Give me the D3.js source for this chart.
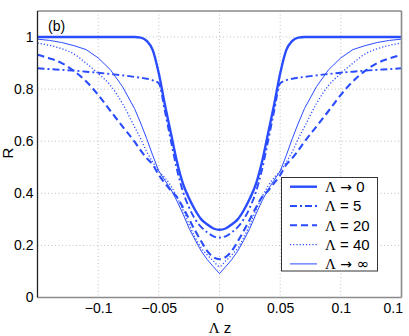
<!DOCTYPE html>
<html>
<head>
<meta charset="utf-8">
<script src="https://cdn.jsdelivr.net/npm/d3@7"></script>
<style>
  html, body { margin: 0; padding: 0; background: #fff; }
  svg { display: block; font-family: "Liberation Sans", Arial, sans-serif; }
</style>
</head>
<body>
<svg id="chart" width="409" height="336"></svg>
<script>
// ---- data ----
const xValues = [-0.15, -0.14, -0.13, -0.12, -0.11, -0.10, -0.09, -0.08, -0.07, -0.065, -0.06, -0.055, -0.05, -0.045, -0.04, -0.035, -0.03, -0.025, -0.02, -0.015, -0.01, -0.005,
  0, 0.005, 0.01, 0.015, 0.02, 0.025, 0.03, 0.035, 0.04, 0.045, 0.05, 0.055, 0.06, 0.065, 0.07, 0.08, 0.09, 0.10, 0.11, 0.12, 0.13, 0.14, 0.15];

const rLam0 = [1, 1, 1, 1, 1, 1, 1, 1, 1, 0.998, 0.985, 0.95, 0.86, 0.74, 0.63, 0.52, 0.435, 0.38, 0.335, 0.30, 0.28, 0.265,
  0.26, 0.265, 0.28, 0.30, 0.335, 0.38, 0.435, 0.52, 0.63, 0.74, 0.86, 0.95, 0.985, 0.998, 1, 1, 1, 1, 1, 1, 1, 1, 1];
const rLam5 = [0.88, 0.877, 0.874, 0.871, 0.867, 0.863, 0.858, 0.853, 0.847, 0.844, 0.84, 0.834, 0.822, 0.715, 0.60, 0.49, 0.405, 0.345, 0.30, 0.27, 0.25, 0.235,
  0.23, 0.235, 0.25, 0.27, 0.30, 0.345, 0.405, 0.49, 0.60, 0.715, 0.822, 0.834, 0.84, 0.844, 0.847, 0.853, 0.858, 0.863, 0.867, 0.871, 0.874, 0.877, 0.88];
const rLam20 = [0.932, 0.918, 0.90, 0.87, 0.83, 0.778, 0.717, 0.657, 0.598, 0.565, 0.535, 0.51, 0.47, 0.439, 0.41, 0.385, 0.345, 0.30, 0.256, 0.215, 0.178, 0.155,
  0.147, 0.155, 0.178, 0.215, 0.256, 0.30, 0.345, 0.385, 0.41, 0.439, 0.47, 0.51, 0.535, 0.565, 0.598, 0.657, 0.717, 0.778, 0.83, 0.87, 0.90, 0.918, 0.932];
const rLam40 = [0.977, 0.968, 0.955, 0.935, 0.90, 0.86, 0.815, 0.745, 0.655, 0.61, 0.56, 0.52, 0.485, 0.46, 0.428, 0.385, 0.335, 0.28, 0.23, 0.19, 0.163, 0.14,
  0.119, 0.14, 0.163, 0.19, 0.23, 0.28, 0.335, 0.385, 0.428, 0.46, 0.485, 0.52, 0.56, 0.61, 0.655, 0.745, 0.815, 0.86, 0.90, 0.935, 0.955, 0.968, 0.977];
const rLamInf = [0.992, 0.987, 0.979, 0.967, 0.952, 0.92, 0.875, 0.81, 0.725, 0.67, 0.61, 0.545, 0.485, 0.45, 0.415, 0.37, 0.32, 0.265, 0.22, 0.178, 0.145, 0.118,
  0.092, 0.118, 0.145, 0.178, 0.22, 0.265, 0.32, 0.37, 0.415, 0.45, 0.485, 0.545, 0.61, 0.67, 0.725, 0.81, 0.875, 0.92, 0.952, 0.967, 0.979, 0.987, 0.992];

const seriesSymbols = ["→ 0", "= 5", "= 20", "= 40", "→ ∞"];
const seriesValues = [rLam0, rLam5, rLam20, rLam40, rLamInf];

const xTickValues = [-0.1, -0.05, 0, 0.05, 0.1, 0.15];
const xTickLabels = ["−0.1", "−0.05", "0", "0.05", "0.1", "0.1"];
const yTickValues = [0, 0.2, 0.4, 0.6, 0.8, 1];
const yTickLabels = ["0", "0.2", "0.4", "0.6", "0.8", "1"];

// ---- styles ----
const blue = "#2a4cff";
const styles = [
  { width: 2.4, dash: null, curve: d3.curveMonotoneX },
  { width: 1.9, dash: "7,3,2,3", curve: d3.curveMonotoneX },
  { width: 2.1, dash: "7,4", curve: d3.curveMonotoneX },
  { width: 1.3, dash: "1.2,2", curve: d3.curveMonotoneX },
  { width: 1.0, dash: null, curve: d3.curveLinear }
];

const svg = d3.select("#chart");
const pLeft = 37.5, pRight = 401.5, pTop = 11, pBottom = 297.5;

const x = d3.scaleLinear().domain([-0.15, 0.15]).range([pLeft, pRight]);
const y = d3.scaleLinear().domain([0, 1.1]).range([pBottom, pTop]);

svg.append("rect").attr("x", 0).attr("y", 0).attr("width", 409).attr("height", 336).attr("fill", "#fff");

// grid
const grid = svg.append("g");
grid.selectAll("line.gx").data([-0.1, -0.05, 0, 0.05, 0.1]).join("line")
  .attr("x1", d => x(d)).attr("x2", d => x(d)).attr("y1", pTop).attr("y2", pBottom)
  .attr("stroke", "#b0b0b0").attr("stroke-width", 0.8).attr("stroke-dasharray", "1,2.5");
grid.selectAll("line.gy").data(yTickValues.slice(1)).join("line")
  .attr("x1", pLeft).attr("x2", pRight).attr("y1", d => y(d)).attr("y2", d => y(d))
  .attr("stroke", "#b0b0b0").attr("stroke-width", 0.8).attr("stroke-dasharray", "1,2.5");

// clip
svg.append("clipPath").attr("id", "plotclip").append("rect")
  .attr("x", pLeft).attr("y", pTop).attr("width", pRight - pLeft).attr("height", pBottom - pTop);

const plot = svg.append("g").attr("clip-path", "url(#plotclip)");
seriesValues.forEach((vals, i) => {
  const pts = xValues.map((xv, k) => [xv, vals[k]]);
  const line = d3.line().x(d => x(d[0])).y(d => y(d[1])).curve(styles[i].curve);
  plot.append("path").attr("d", line(pts))
    .attr("fill", "none").attr("stroke", blue)
    .attr("stroke-width", styles[i].width)
    .attr("stroke-dasharray", styles[i].dash)
    .attr("stroke-linejoin", "round");
});

// frame
svg.append("line").attr("x1", pLeft).attr("x2", pRight).attr("y1", pTop).attr("y2", pTop).attr("stroke", "#8a8a8a").attr("stroke-width", 1.6);
svg.append("line").attr("x1", pRight).attr("x2", pRight).attr("y1", pTop).attr("y2", pBottom).attr("stroke", "#8a8a8a").attr("stroke-width", 1.6);
svg.append("line").attr("x1", pLeft).attr("x2", pRight).attr("y1", pBottom).attr("y2", pBottom).attr("stroke", "#8a8a8a").attr("stroke-width", 1.6);
svg.append("line").attr("x1", pLeft).attr("x2", pLeft).attr("y1", pTop).attr("y2", pBottom).attr("stroke", "#222").attr("stroke-width", 1.3);

// axes (labels only)
const xAxis = d3.axisBottom(x).tickValues(xTickValues).tickSize(0).tickPadding(0)
  .tickFormat((d, i) => xTickLabels[i]);
const gx = svg.append("g").attr("transform", `translate(0,${pBottom + 6})`).call(xAxis);
gx.select(".domain").remove();
gx.selectAll("text").attr("font-size", 14).attr("font-family", "Liberation Sans, Arial, sans-serif").attr("fill", "#000").attr("dy", "0.71em");
gx.selectAll(".tick").filter((d, i) => i === xTickValues.length - 1).select("text").attr("text-anchor", "end").attr("x", 1);

const yAxis = d3.axisLeft(y).tickValues(yTickValues).tickSize(0).tickPadding(4)
  .tickFormat((d, i) => yTickLabels[i]);
const gy = svg.append("g").attr("transform", `translate(${pLeft},0)`).call(yAxis);
gy.select(".domain").remove();
gy.selectAll("text").attr("font-size", 14).attr("font-family", "Liberation Sans, Arial, sans-serif").attr("fill", "#000");

// axis titles
const xt = svg.append("text").attr("x", 220).attr("y", 333).attr("text-anchor", "middle").attr("font-size", 15);
xt.append("tspan").attr("font-family", "Liberation Serif, serif").text("Λ");
xt.append("tspan").text(" z");
svg.append("text").attr("transform", "translate(13,153) rotate(-90)").attr("text-anchor", "middle")
  .attr("font-size", 15).text("R");
svg.append("text").attr("x", 48).attr("y", 31).attr("font-size", 14).text("(b)");

// legend
const lg = svg.append("g");
lg.append("rect").attr("x", 281.5).attr("y", 177.5).attr("width", 96).attr("height", 93.5)
  .attr("fill", "#fff").attr("stroke", "#333").attr("stroke-width", 1);
seriesSymbols.forEach((sym, i) => {
  const yy = 186.7 + i * 19.3;
  lg.append("line").attr("x1", 290).attr("x2", 317).attr("y1", yy).attr("y2", yy)
    .attr("stroke", blue).attr("stroke-width", styles[i].width)
    .attr("stroke-dasharray", styles[i].dash);
  const t = lg.append("text").attr("x", 325).attr("y", yy).attr("dy", "0.36em").attr("font-size", 15);
  t.append("tspan").attr("font-family", "Liberation Serif, serif").text("Λ");
  if (sym[0] === "→") {
    t.append("tspan").attr("font-family", "DejaVu Sans, sans-serif").attr("font-size", 14).text(" →");
    t.append("tspan").attr("font-family", sym.slice(2) === "∞" ? "DejaVu Sans, sans-serif" : null).text(" " + sym.slice(2));
  } else {
    t.append("tspan").text(" " + sym);
  }
});
</script>
</body>
</html>
